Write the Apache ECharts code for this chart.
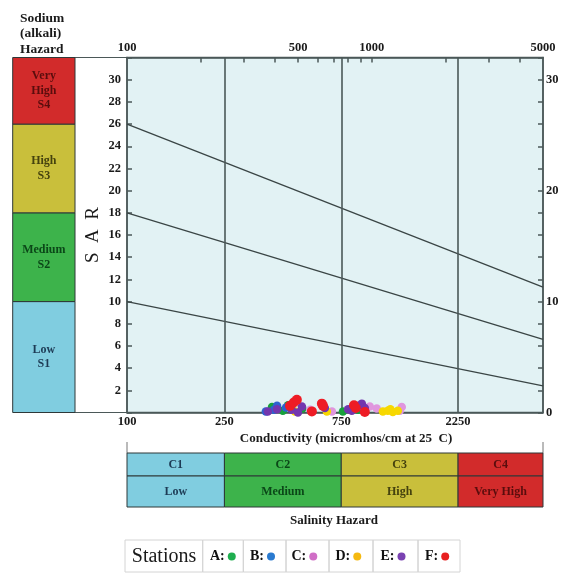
<!DOCTYPE html>
<html><head><meta charset="utf-8">
<script src="https://cdn.jsdelivr.net/npm/echarts@6/dist/echarts.min.js"></script>
<style>html,body{margin:0;padding:0;background:#fff}#c{width:563px;height:574px}</style>
</head><body><div id="c"></div>
<script>
// ---------- data ----------
const topTickValues = [200, 300, 400, 500, 600, 700, 800, 900, 1000, 2000, 3000, 4000];
const topTickLabels = [100, 500, 1000, 5000];
const bottomTickLabels = [100, 250, 750, 2250];
const salinityBounds = [100, 250, 750, 2250, 5000];
const salinityClasses = ['C1', 'C2', 'C3', 'C4'];
const salinityNames = ['Low', 'Medium', 'High', 'Very High'];
const sodiumBounds = [0, 10, 18, 26, 32];
const sodiumNames = ['Low\nS1', 'Medium\nS2', 'High\nS3', 'Very\nHigh\nS4'];
const boundaryS1S2 = [[100, 10], [5000, 2.4]];
const boundaryS2S3 = [[100, 18], [5000, 6.6]];
const boundaryS3S4 = [[100, 26], [5000, 11.3]];
const stationNames = ['A', 'B', 'C', 'D', 'E', 'F'];
const stationA = [[391, 0.5], [433, 0.15], [455, 0.65], [520, 0.35], [762, 0.1], [880, 0.25]];
const stationB = [[369, 0.1], [398, 0.25], [410, 0.6], [446, 0.45], [850, 0.4], [930, 0.15]];
const stationC = [[560, 0.25], [687, 0.1], [900, 0.65], [981, 0.55], [1047, 0.35], [1300, 0.15], [1325, 0.5]];
const stationD = [[470, 0.4], [485, 0.1], [655, 0.1], [1109, 0.1], [1162, 0.15], [1190, 0.3], [1218, 0.05], [1276, 0.15]];
const stationE = [[376, 0.1], [410, 0.3], [471, 0.25], [499, 0.0], [518, 0.55], [643, 0.4], [800, 0.3], [828, 0.15], [880, 0.6], [910, 0.8], [936, 0.4]];
const stationF = [[463, 0.6], [480, 0.9], [494, 1.15], [569, 0.1], [625, 0.8], [632, 0.6], [845, 0.65], [860, 0.4], [936, 0.05]];

// ---------- styles ----------
const SERIF = '"Liberation Serif","Times New Roman",serif';
const classColors = ['#80cde0', '#3db34b', '#c9bf3b', '#d22b2b'];
const classText = ['#1d3b55', '#0b4718', '#45420e', '#5a0d0d'];
const stationColors = ['#17a03c', '#2d62cf', '#e096de', '#f7d800', '#7236ae', '#ee1c25'];
const legendColors = ['#1fae4f', '#2a7ad0', '#d06ec6', '#f5b910', '#7a42b2', '#e82020'];
const stationData = [stationA, stationB, stationC, stationD, stationE, stationF];
const frameColor = '#4b5858';

const chart = echarts.init(document.getElementById('c'), null, {renderer: 'canvas'});

const scatterSeries = stationNames.map((n, i) => ({
  name: n, type: 'scatter', xAxisIndex: 0, yAxisIndex: 0,
  data: stationData[i], symbolSize: n === 'F' ? 10 : 8.5,
  itemStyle: {color: stationColors[i], opacity: 1}, z: 5
}));

const lineStyleB = {color: '#3a4545', width: 1.3};
const boundarySeries = [boundaryS1S2, boundaryS2S3, boundaryS3S4].map((d, i) => ({
  type: 'line', xAxisIndex: 0, yAxisIndex: 0, data: d, symbol: 'none', silent: true,
  lineStyle: lineStyleB, z: 3,
  markLine: i === 0 ? {
    silent: true, symbol: 'none', label: {show: false},
    lineStyle: {color: frameColor, width: 1.6, type: 'solid'},
    data: salinityBounds.slice(1, 4).map(v => ({xAxis: v}))
  } : undefined
}));

const sodiumSeries = {
  type: 'custom', xAxisIndex: 2, yAxisIndex: 2, silent: true,
  data: sodiumNames.map((n, i) => [sodiumBounds[i], sodiumBounds[i + 1], i]),
  renderItem(params, api) {
    const i = api.value(2);
    const p0 = api.coord([0, api.value(1)]);
    const p1 = api.coord([1, api.value(0)]);
    return {
      type: 'rect',
      shape: {x: p0[0], y: p0[1], width: p1[0] - p0[0], height: p1[1] - p0[1]},
      style: {fill: classColors[i], stroke: '#2e3838', lineWidth: 1},
      textContent: {style: {text: sodiumNames[i], font: 'bold 12px ' + SERIF, fill: classText[i], align: 'center', verticalAlign: 'middle', lineHeight: 14.5}},
      textConfig: {position: 'inside'}
    };
  }
};

const tableData = [];
salinityClasses.forEach((c, i) => {
  tableData.push([salinityBounds[i], salinityBounds[i + 1], 1, i]);
  tableData.push([salinityBounds[i], salinityBounds[i + 1], 0, i]);
});
const salinitySeries = {
  type: 'custom', xAxisIndex: 3, yAxisIndex: 3, silent: true,
  data: tableData,
  renderItem(params, api) {
    const row = api.value(2), i = api.value(3);
    const yTop = row === 1 ? 54 : 31, yBot = row === 1 ? 31 : 0;
    const p0 = api.coord([api.value(0), yTop]);
    const p1 = api.coord([api.value(1), yBot]);
    return {
      type: 'rect',
      shape: {x: p0[0], y: p0[1], width: p1[0] - p0[0], height: p1[1] - p0[1]},
      style: {fill: classColors[i], stroke: '#2e3838', lineWidth: 1},
      textContent: {style: {text: row === 1 ? salinityClasses[i] : salinityNames[i], font: 'bold 12px ' + SERIF, fill: classText[i], align: 'center', verticalAlign: 'middle'}},
      textConfig: {position: 'inside'}
    };
  }
};

const axisLabelStyle = {fontFamily: SERIF, fontWeight: 'bold', fontSize: 12.5, color: '#1a1a1a'};
const plainNum = v => String(Math.round(v));
const legendLeft = [210, 250, 291.5, 335.5, 380.5, 425];
const cellEdges = [125, 202.7, 243.3, 286, 329, 373, 418, 460];

const graphic = [
  {type: 'text', x: 20, y: 10.5, style: {text: 'Sodium\n(alkali)\nHazard', font: 'bold 13.5px ' + SERIF, fill: '#1a1a1a', lineHeight: 15.5}},
  {type: 'line', shape: {x1: 75, y1: 57.5, x2: 127, y2: 57.5}, style: {stroke: frameColor, lineWidth: 1}},
  {type: 'line', shape: {x1: 75, y1: 412.5, x2: 127, y2: 412.5}, style: {stroke: frameColor, lineWidth: 1.2}},
  {type: 'line', shape: {x1: 127, y1: 442, x2: 127, y2: 453}, style: {stroke: '#777', lineWidth: 1}},
  {type: 'line', shape: {x1: 543, y1: 442, x2: 543, y2: 453}, style: {stroke: '#777', lineWidth: 1}},
  {type: 'text', x: 346, y: 439, style: {text: 'Conductivity (micromhos/cm at 25  C)', font: 'bold 13px ' + SERIF, fill: '#1a1a1a', align: 'center', verticalAlign: 'middle'}},
  {type: 'text', x: 334, y: 521, style: {text: 'Salinity Hazard', font: 'bold 13px ' + SERIF, fill: '#1a1a1a', align: 'center', verticalAlign: 'middle'}},
  {type: 'text', x: 164, y: 557, style: {text: 'Stations', font: '20px ' + SERIF, fill: '#1a1a1a', align: 'center', verticalAlign: 'middle'}}
];
for (let k = 0; k < cellEdges.length - 1; k++) {
  graphic.push({type: 'rect', shape: {x: cellEdges[k], y: 540, width: cellEdges[k + 1] - cellEdges[k], height: 32},
    style: {fill: 'none', stroke: '#d4d4d4', lineWidth: 1}, z: -1});
}

const option = {
  animation: false,
  backgroundColor: '#fff',
  grid: [
    {left: 127, right: 20, top: 57.5, height: 355, show: true, backgroundColor: '#e2f2f4', borderColor: frameColor, borderWidth: 1.5},
    {left: 12.7, width: 62.3, top: 57.5, height: 355},
    {left: 127, right: 20, top: 453, height: 54}
  ],
  xAxis: [
    {type: 'log', gridIndex: 0, position: 'bottom', min: 100, max: 5000,
      axisLine: {show: true, onZero: false, lineStyle: {color: frameColor, width: 1.5}},
      axisTick: {show: false},
      splitLine: {show: false}, minorTick: {show: false}, minorSplitLine: {show: false},
      axisLabel: Object.assign({customValues: bottomTickLabels, margin: 3, formatter: plainNum}, axisLabelStyle)},
    {type: 'log', gridIndex: 0, position: 'top', min: 100, max: 5000,
      axisLine: {show: true, onZero: false, lineStyle: {color: frameColor, width: 1.5}},
      axisTick: {show: true, inside: true, length: 5, customValues: topTickValues, lineStyle: {color: frameColor, width: 1.5}},
      splitLine: {show: false}, minorTick: {show: false}, minorSplitLine: {show: false},
      axisLabel: Object.assign({customValues: topTickLabels, margin: 3, formatter: plainNum}, axisLabelStyle)},
    {type: 'value', gridIndex: 1, min: 0, max: 1, show: false},
    {type: 'log', gridIndex: 2, min: 100, max: 5000, show: false}
  ],
  yAxis: [
    {type: 'value', gridIndex: 0, position: 'left', min: 0, max: 32, interval: 2,
      name: 'S  A  R', nameLocation: 'middle', nameGap: 24, nameRotate: 90, nameMoveOverlap: false,
      nameTextStyle: {fontFamily: SERIF, fontSize: 19, color: '#1a1a1a'},
      axisLine: {show: true, onZero: false, lineStyle: {color: frameColor, width: 1.5}},
      axisTick: {show: true, inside: true, length: 5, lineStyle: {color: frameColor, width: 1.5}},
      splitLine: {show: false}, minorTick: {show: false},
      axisLabel: Object.assign({margin: 6, formatter: v => (v === 0 || v === 32) ? '' : String(v)}, axisLabelStyle)},
    {type: 'value', gridIndex: 0, position: 'right', min: 0, max: 32, interval: 2,
      axisLine: {show: true, onZero: false, lineStyle: {color: frameColor, width: 1.5}},
      axisTick: {show: true, inside: true, length: 5, lineStyle: {color: frameColor, width: 1.5}},
      splitLine: {show: false}, minorTick: {show: false},
      axisLabel: Object.assign({margin: 3, formatter: v => (v % 10 === 0 && v <= 30) ? String(v) : ''}, axisLabelStyle)},
    {type: 'value', gridIndex: 1, min: 0, max: 32, show: false},
    {type: 'value', gridIndex: 2, min: 0, max: 54, show: false}
  ],
  legend: stationNames.map((n, i) => ({
    data: [{name: n, itemStyle: {color: legendColors[i]}}],
    left: legendLeft[i], top: 549.5, padding: 0,
    itemWidth: 8, itemHeight: 8, icon: 'circle', align: 'right', selectedMode: false,
    formatter: '{name}:',
    textStyle: {fontFamily: SERIF, fontWeight: 'bold', fontSize: 14, color: '#111', padding: [0, -2, 0, 0]}
  })),
  graphic: graphic,
  series: [].concat(boundarySeries, scatterSeries, [sodiumSeries, salinitySeries])
};
chart.setOption(option);
</script>
</body></html>
